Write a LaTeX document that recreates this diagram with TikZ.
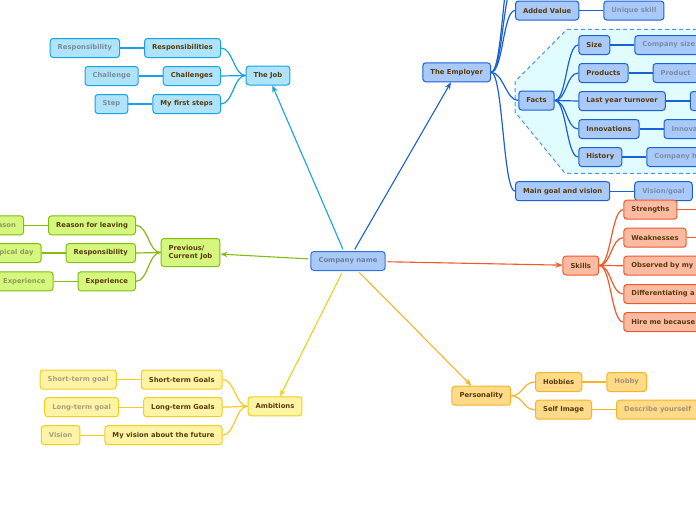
\documentclass[tikz,border=0pt]{standalone}
\usepackage{fontspec}
\setmainfont{DejaVu Sans}
\usetikzlibrary{arrows.meta, positioning}
\definecolor{inkbrown}{HTML}{5A3A0C}
\definecolor{rootfill}{HTML}{A9CAF8}
\definecolor{rootline}{HTML}{2F73DE}
\definecolor{roottext}{HTML}{6C7D98}
\definecolor{jobfill}{HTML}{AEE3FA}
\definecolor{jobline}{HTML}{17A2E6}
\definecolor{jobleaftext}{HTML}{7C8C98}
\definecolor{prevfill}{HTML}{D5F77E}
\definecolor{prevline}{HTML}{84BC12}
\definecolor{prevleaftext}{HTML}{8E9C58}
\definecolor{ambfill}{HTML}{FFF4A6}
\definecolor{ambline}{HTML}{F2CD1E}
\definecolor{ambleaftext}{HTML}{A8A080}
\definecolor{empfill}{HTML}{A9CAF8}
\definecolor{empline}{HTML}{1A60D6}
\definecolor{empleaftext}{HTML}{7B8CA8}
\definecolor{factfill}{HTML}{E0FCFF}
\definecolor{factline}{HTML}{4A94EC}
\definecolor{skillfill}{HTML}{FBBBA3}
\definecolor{skillline}{HTML}{F2592A}
\definecolor{persfill}{HTML}{FFDA88}
\definecolor{persline}{HTML}{F5B427}
\definecolor{persleaftext}{HTML}{A89070}
\tikzset{
  topic/.style={rectangle, rounded corners=3pt, line width=1pt, minimum height=19pt, inner xsep=7.6pt, inner ysep=2pt, text=inkbrown, font=\bfseries\fontsize{6.8}{8}\selectfont},
  root/.style={topic, fill=rootfill, draw=rootline, text=roottext},
  jobbox/.style={topic, fill=jobfill, draw=jobline},
  jobleaf/.style={jobbox, text=jobleaftext},
  prevbox/.style={topic, fill=prevfill, draw=prevline},
  prevleaf/.style={prevbox, text=prevleaftext},
  ambbox/.style={topic, fill=ambfill, draw=ambline},
  ambleaf/.style={ambbox, text=ambleaftext},
  empbox/.style={topic, fill=empfill, draw=empline},
  empleaf/.style={empbox, text=empleaftext},
  skillbox/.style={topic, fill=skillfill, draw=skillline},
  persbox/.style={topic, fill=persfill, draw=persline},
  persleaf/.style={persbox, text=persleaftext},
  cut/.style={text width=#1, align=left},
  arrow/.style={line width=1.1pt, -{Stealth[length=7pt, width=5.5pt]}, shorten <=2pt},
  link/.style={line width=1.2pt},
  sbend/.style={to path={.. controls +(#1,0) and +({-(#1)},0) .. (\tikztotarget)}}
}

\begin{document}
\begin{tikzpicture}[x=1pt, y=-1pt]
\useasboundingbox (0,0) rectangle (696,520);
\clip (0,0) rectangle (696,520);
\fill[white] (0,0) rectangle (696,520);

% facts group
\filldraw[fill=factfill, draw=factline, line width=1pt, dash pattern=on 4pt off 3pt]
  (567,29.3) -- (700,29.3) -- (700,173.3) -- (565,173.3) -- (515,112) -- (515,81.7) -- cycle;

\node[root] (company) at (348,261) {Company name};

% The Job
\node[jobbox] (job) at (268,75.5) {The Job};
\node[jobbox, anchor=east] (resps) at (221,48) {Responsibilities};
\node[jobbox, anchor=east] (chals) at (221,76) {Challenges};
\node[jobbox, anchor=east] (steps) at (221,104) {My first steps};
\node[jobleaf, left=24pt of resps] (resp) {Responsibility};
\node[jobleaf, left=24pt of chals] (chal) {Challenge};
\node[jobleaf, left=24pt of steps] (step1) {Step};

% Previous job
\node[prevbox, align=left, minimum height=28pt] (prev) at (190.5,252.5) {Previous/\\Current Job};
\node[prevbox, anchor=east] (leaving) at (136,225.3) {Reason for leaving};
\node[prevbox, anchor=east] (duty) at (136,253) {Responsibility};
\node[prevbox, anchor=east] (exper) at (136,281.3) {Experience};
\node[prevleaf, left=24pt of leaving] (reason) {Reason};
\node[prevleaf, left=24pt of duty] (dayjob) {Typical day};
\node[prevleaf, left=24pt of exper] (expleaf) {Experience};

% Ambitions
\node[ambbox] (ambit) at (275,406.3) {Ambitions};
\node[ambbox, anchor=east] (shortg) at (222.7,379.5) {Short-term Goals};
\node[ambbox, anchor=east] (longg) at (222.7,407.2) {Long-term Goals};
\node[ambbox, anchor=east] (future) at (222.7,435.2) {My vision about the future};
\node[ambleaf, left=24pt of shortg] (shortleaf) {Short-term goal};
\node[ambleaf, left=24pt of longg] (longleaf) {Long-term goal};
\node[ambleaf, left=24pt of future] (visionleaf) {Vision};

% The Employer
\node[empbox] (employer) at (456.7,72.3) {The Employer};
\coordinate (upperA) at (515,-17.5);
\coordinate (upperB) at (515,-45.5);
\node[empbox, anchor=west] (added) at (515,10.5) {Added Value};
\node[empbox, anchor=west] (facts) at (518.3,100.5) {Facts};
\node[empbox, anchor=west] (mainvision) at (515,191.2) {Main goal and vision};
\node[empleaf, right=24pt of added] (unique) {Unique skill};
\node[empleaf, right=24pt of mainvision] (visiongoal) {Vision/goal};
\node[empbox, anchor=west] (size) at (578.3,45) {Size};
\node[empbox, anchor=west] (products) at (578.3,73) {Products};
\node[empbox, anchor=west] (turnover) at (578.3,101) {Last year turnover};
\node[empbox, anchor=west] (innov) at (578.3,129) {Innovations};
\node[empbox, anchor=west] (history) at (578.3,157) {History};
\node[empleaf, right=24pt of size] (sizeleaf) {Company size};
\node[empleaf, right=24pt of products] (productleaf) {Product};
\node[empleaf, right=24pt of turnover, minimum width=40pt] (turnleaf) {};
\node[empleaf, right=24pt of innov] (innovleaf) {Innovation};
\node[empleaf, right=24pt of history] (historyleaf) {Company history};

% Skills
\node[skillbox] (skills) at (580.8,265.5) {Skills};
\node[skillbox, anchor=west] (strength) at (623.3,209.7) {Strengths};
\node[skillbox, anchor=west] (weak) at (623.3,237.7) {Weaknesses};
\node[skillbox, anchor=west, cut=90pt] (observed) at (623.3,265.7) {Observed by my};
\node[skillbox, anchor=west, cut=90pt] (differ) at (623.3,294) {Differentiating a};
\node[skillbox, anchor=west, cut=90pt] (hireme) at (623.3,322) {Hire me because};
\coordinate[right=30pt of strength] (strengthnext);
\coordinate[right=30pt of weak] (weaknext);

% Personality
\node[persbox] (personality) at (481.3,395.7) {Personality};
\node[persbox, anchor=west] (hobbies) at (535,382) {Hobbies};
\node[persbox, anchor=west] (selfimg) at (535,409.7) {Self Image};
\node[persleaf, right=24pt of hobbies] (hobby) {Hobby};
\node[persleaf, right=24pt of selfimg] (describe) {Describe yourself};

% main arrows
\draw[arrow, jobline] (company) -- (job);
\draw[arrow, prevline] (company) -- (prev);
\draw[arrow, ambline] (company) -- (ambit);
\draw[arrow, empline] (company) -- (employer);
\draw[arrow, skillline] (company) -- (skills);
\draw[arrow, persline] (company) -- (personality);

% branches
\draw[link, jobline] (job.west) to[sbend=-12] (resps.east);
\draw[link, jobline] (job.west) to[sbend=-12] (chals.east);
\draw[link, jobline] (job.west) to[sbend=-12] (steps.east);
\draw[link, jobline] (resps) -- (resp);
\draw[link, jobline] (chals) -- (chal);
\draw[link, jobline] (steps) -- (step1);

\draw[link, prevline] (prev.west) to[sbend=-12] (leaving.east);
\draw[link, prevline] (prev.west) to[sbend=-12] (duty.east);
\draw[link, prevline] (prev.west) to[sbend=-12] (exper.east);
\draw[link, prevline] (leaving) -- (reason);
\draw[link, prevline] (duty) -- (dayjob);
\draw[link, prevline] (exper) -- (expleaf);

\draw[link, ambline] (ambit.west) to[sbend=-12] (shortg.east);
\draw[link, ambline] (ambit.west) to[sbend=-12] (longg.east);
\draw[link, ambline] (ambit.west) to[sbend=-12] (future.east);
\draw[link, ambline] (shortg) -- (shortleaf);
\draw[link, ambline] (longg) -- (longleaf);
\draw[link, ambline] (future) -- (visionleaf);

\draw[link, empline] (employer.east) to[sbend=12] (upperB);
\draw[link, empline] (employer.east) to[sbend=12] (upperA);
\draw[link, empline] (employer.east) to[sbend=12] (added.west);
\draw[link, empline] (employer.east) to[sbend=12] (facts.west);
\draw[link, empline] (employer.east) to[sbend=12] (mainvision.west);
\draw[link, empline] (added) -- (unique);
\draw[link, empline] (mainvision) -- (visiongoal);
\draw[link, empline] (facts.east) to[sbend=12] (size.west);
\draw[link, empline] (facts.east) to[sbend=12] (products.west);
\draw[link, empline] (facts.east) to[sbend=12] (turnover.west);
\draw[link, empline] (facts.east) to[sbend=12] (innov.west);
\draw[link, empline] (facts.east) to[sbend=12] (history.west);
\draw[link, empline] (size) -- (sizeleaf);
\draw[link, empline] (products) -- (productleaf);
\draw[link, empline] (turnover) -- (turnleaf);
\draw[link, empline] (innov) -- (innovleaf);
\draw[link, empline] (history) -- (historyleaf);

\draw[link, skillline] (skills.east) to[sbend=12] (strength.west);
\draw[link, skillline] (skills.east) to[sbend=12] (weak.west);
\draw[link, skillline] (skills.east) to[sbend=12] (observed.west);
\draw[link, skillline] (skills.east) to[sbend=12] (differ.west);
\draw[link, skillline] (skills.east) to[sbend=12] (hireme.west);
\draw[link, skillline] (strength) -- (strengthnext);
\draw[link, skillline] (weak) -- (weaknext);

\draw[link, persline] (personality.east) to[sbend=12] (hobbies.west);
\draw[link, persline] (personality.east) to[sbend=12] (selfimg.west);
\draw[link, persline] (hobbies) -- (hobby);
\draw[link, persline] (selfimg) -- (describe);
\end{tikzpicture}
\end{document}
